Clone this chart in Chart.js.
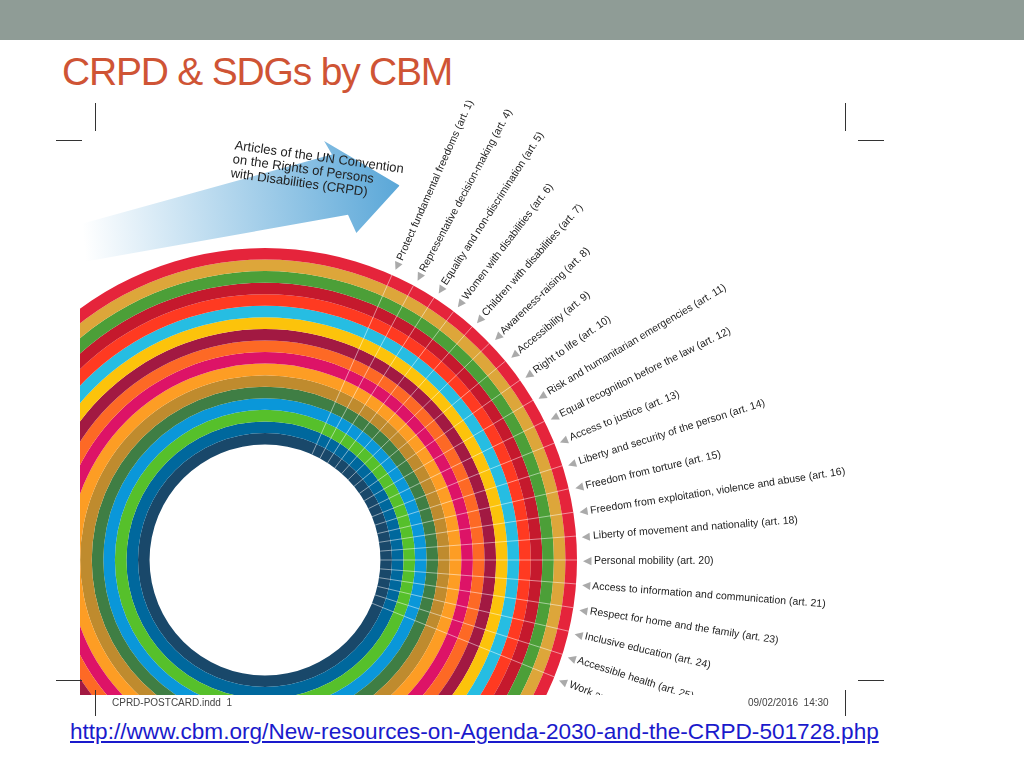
<!DOCTYPE html>
<html><head><meta charset="utf-8">
<script src="https://cdn.jsdelivr.net/npm/chart.js@4"></script>
<style>
body{margin:0;width:1024px;height:768px;background:#fff;position:relative;overflow:hidden;font-family:"Liberation Sans",Arial,sans-serif}
#bar{position:absolute;left:0;top:0;width:1024px;height:40px;background:#8f9c96}
#title{position:absolute;left:62px;top:50px;font-size:39px;color:#cf5435;letter-spacing:-1.2px;font-family:"Liberation Sans Narrow","Liberation Sans",sans-serif}
#clip{position:absolute;left:80px;top:150px;width:500px;height:545px;overflow:hidden}
#wrap{position:absolute;left:-127px;top:98px;width:624px;height:624px}
#labels{position:absolute;left:0;top:0;width:1024px;height:695px;overflow:hidden}
.lab{position:absolute;left:265px;top:560px;transform-origin:0 50%;white-space:nowrap;font-size:10.5px;color:#222;line-height:12px}
.lab span{color:#aaa}
#arrow{position:absolute;left:80px;top:150px;width:320px;height:95px;background:linear-gradient(90deg,#fff,#5aa7d8);clip-path:polygon(0 60%,80% 15%,78% 0,100% 55%,85% 100%,83% 80%,0 100%);transform:rotate(-6deg)}
#arrowtxt{position:absolute;left:232px;top:150px;font-size:13px;line-height:14px;color:#222;transform:rotate(8deg)}
.mark{position:absolute;background:#333}
#foot1{position:absolute;left:112px;top:697px;font-size:10px;color:#444}
#foot2{position:absolute;left:748px;top:697px;font-size:10px;color:#444}
#url{position:absolute;left:70px;top:719px;font-size:22.6px;color:#1a1acc;text-decoration:underline}
</style></head><body>
<div id="bar"></div>
<div id="title">CRPD &amp; SDGs by CBM</div>
<div id="clip"><div id="wrap"><canvas id="c" width="624" height="624"></canvas></div></div>
<div id="arrow"></div>
<div id="arrowtxt">Articles of the UN Convention<br>on the Rights of Persons<br>with Disabilities (CRPD)</div>
<div id="labels"></div>
<div class="mark" style="left:95px;top:103px;width:1px;height:28px"></div>
<div class="mark" style="left:56px;top:140px;width:26px;height:1px"></div>
<div class="mark" style="left:845px;top:103px;width:1px;height:28px"></div>
<div class="mark" style="left:858px;top:140px;width:26px;height:1px"></div>
<div class="mark" style="left:95px;top:690px;width:1px;height:26px"></div>
<div class="mark" style="left:56px;top:680px;width:26px;height:1px"></div>
<div class="mark" style="left:845px;top:690px;width:1px;height:26px"></div>
<div class="mark" style="left:858px;top:680px;width:26px;height:1px"></div>
<div id="foot1">CPRD-POSTCARD.indd &nbsp;1</div>
<div id="foot2">09/02/2016 &nbsp;14:30</div>
<div id="url">http://www.cbm.org/New-resources-on-Agenda-2030-and-the-CRPD-501728.php</div>
<script>
const goals = ['1.No poverty','2.Zero hunger','3.Good health and well-being','4.Quality education','5.Gender equality','6.Clean water and sanitation','7.Affordable and clean energy','8.Decent work and economic growth','9.Industry, innovation and infrastructure','10.Reduced inequalities','11.Sustainable cities and communities','12.Responsible consumption and production','13.Climate action','14.Life below water','15.Life on land','16.Peace, justice and strong institutions','17.Partnerships for the goals'];
const goalColors = ['#e5243b','#dda63a','#4c9f38','#c5192d','#ff3a21','#26bde2','#fcc30b','#a21942','#fd6925','#dd1367','#fd9d24','#bf8b2e','#3f7e44','#0a97d9','#56c02b','#00689d','#19486a'];
const articles = ['Protect fundamental freedoms (art. 1)','Representative decision-making (art. 4)','Equality and non-discrimination (art. 5)','Women with disabilities (art. 6)','Children with disabilities (art. 7)','Awareness-raising (art. 8)','Accessibility (art. 9)','Right to life (art. 10)','Risk and humanitarian emergencies (art. 11)','Equal recognition before the law (art. 12)','Access to justice (art. 13)','Liberty and security of the person (art. 14)','Freedom from torture (art. 15)','Freedom from exploitation, violence and abuse (art. 16)','Liberty of movement and nationality (art. 18)','Personal mobility (art. 20)','Access to information and communication (art. 21)','Respect for home and the family (art. 23)','Inclusive education (art. 24)','Accessible health (art. 25)','Work and employment (art. 27)'];
const ringShare = [1];

const lw = document.getElementById('labels');
articles.forEach((t,i)=>{
  const d=document.createElement('div');d.className='lab';d.innerHTML='<span>◀</span> '+t;
  d.style.transform='translateY(-50%) rotate('+(-66+i*4.4)+'deg) translateX(318px)';
  lw.appendChild(d);
});

// thin white spokes over the article sector
const spokes = {id:'spokes',afterDraw(ch){
  const c=ch.ctx,a=ch.chartArea,cx=(a.left+a.right)/2,cy=(a.top+a.bottom)/2,R=Math.min(a.right-a.left,a.bottom-a.top)/2;
  c.save();c.strokeStyle='rgba(255,255,255,0.7)';c.lineWidth=0.7;
  articles.forEach((t,i)=>{const ang=(-66+i*4.4)*Math.PI/180;
    c.beginPath();c.moveTo(cx+Math.cos(ang)*R*0.37,cy+Math.sin(ang)*R*0.37);c.lineTo(cx+Math.cos(ang)*R,cy+Math.sin(ang)*R);c.stroke();});
  c.restore();}};

new Chart(document.getElementById('c').getContext('2d'), {
  type:'doughnut',
  data:{labels:['ring'],
    datasets:goals.map((g,i)=>({label:g,data:ringShare,backgroundColor:goalColors[i],borderWidth:0}))},
  options:{responsive:false,animation:false,cutout:'37%',
    plugins:{legend:{display:false},tooltip:{enabled:false}}},
  plugins:[spokes]
});
</script>
</body></html>
